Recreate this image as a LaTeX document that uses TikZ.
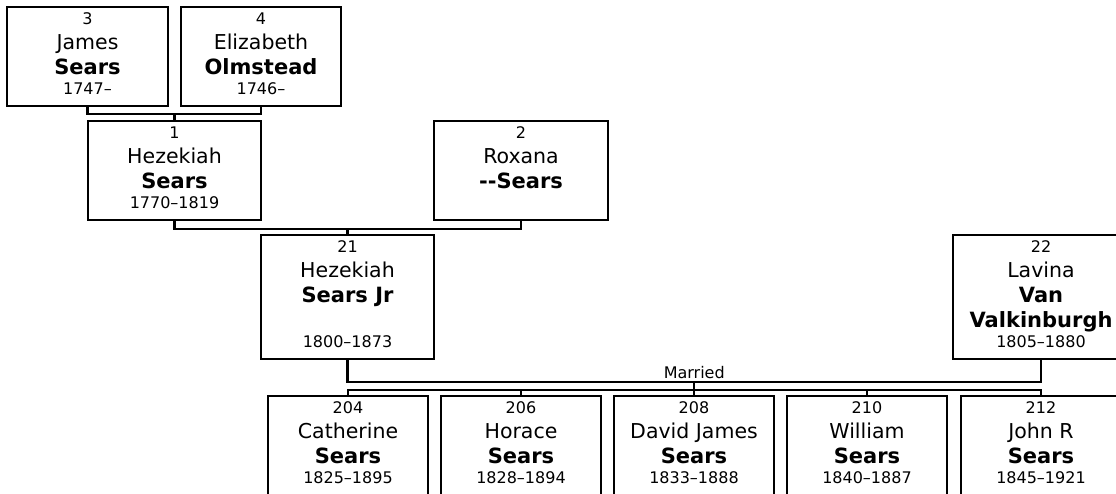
\documentclass[tikz,border=0pt]{standalone}
\usepackage{fontspec}
\newfontfamily\whofont{DejaVu Sans}
\usetikzlibrary{calc}
\newcommand{\bigname}{\fontsize{20.5}{25}\selectfont}
\newcommand{\surname}{\fontsize{21}{25}\selectfont\bfseries}

\begin{document}
\begin{tikzpicture}[x=1pt, y=-1pt, line width=2.2pt,
  whobox/.style={draw, inner sep=0pt, minimum height=99pt},
  whotext/.style={anchor=north, align=center, inner sep=0pt, yshift=-6pt, font=\whofont\fontsize{16}{25}\selectfont},
  kid/.style={whobox, minimum width=160pt, minimum height=100pt}]
\useasboundingbox (0,0) rectangle (1116,493);
\clip (0,0) rectangle (1116,493);

% grandparents
\node[whobox, minimum width=161pt] (p3) at (87.5,56.5) {};
\node[whotext] (t3) at (p3.north) {3\\ \bigname James\\ \surname Sears\\[-5pt] 1747–};
\node[whobox, minimum width=160pt] (p4) at (261,56.5) {};
\node[whotext] (t4) at (p4.north) {4\\ \bigname Elizabeth\\ \surname Olmstead\\[-5pt] 1746–};

% parents
\node[whobox, minimum width=173pt] (p1) at (174.5,170.5) {};
\node[whotext] (t1) at (p1.north) {1\\ \bigname Hezekiah\\ \surname Sears\\[-5pt] 1770–1819};
\node[whobox, minimum width=174pt] (p2) at (521,170.5) {};
\node[whotext] (t2) at (p2.north) {2\\ \bigname Roxana\\ \surname --Sears};

% couple
\node[whobox, minimum width=173pt, minimum height=124pt] (p21) at (347.5,297) {};
\node[whotext] (t21) at (p21.north) {21\\ \bigname Hezekiah\\ \surname Sears Jr\\ \\[-5pt] 1800–1873};
\node[whobox, minimum width=176pt, minimum height=124pt] (p22) at (1041,297) {};
\node[whotext] (t22) at (p22.north) {22\\ \bigname Lavina\\ \surname Van\\ \surname Valkinburgh\\[-5pt] 1805–1880};

% children
\foreach \n/\x/\first/\life in {204/348/Catherine/1825–1895, 206/521/Horace/1828–1894,
    208/694/David James/1833–1888, 210/867/William/1840–1887, 212/1041/John R/1845–1921}{
  \node[kid] (c\n) at (\x,446) {};
  \node[whotext] (k\n) at (c\n.north) {\n\\ \bigname \first\\ \surname Sears\\[-5pt] \life};
}

% lines
\draw (p3.south) -- ++(0,7) coordinate (g1) -| (p4.south);
\draw (p1.north) -- (p1.north |- g1);
\draw (p1.south) -- ++(0,8) coordinate (g2) -| (p2.south);
\draw (p21.north) -- (p21.north |- g2);
\draw (p21.south) -- ++(0,22) coordinate (m) -| node[pos=0.25, above, inner sep=2pt, font=\whofont\fontsize{16}{25}\selectfont] (wed) {Married} (p22.south);
\coordinate (m2) at ($(m)!0.5!(m -| p22.south)$);
\draw (m2) -- ++(0,8) coordinate (kb);
\draw (c204.north) -- (c204.north |- kb) -- (c212.north |- kb) -- (c212.north);
\foreach \c in {206,208,210} \draw (c\c.north) -- (c\c.north |- kb);
\end{tikzpicture}
\end{document}
